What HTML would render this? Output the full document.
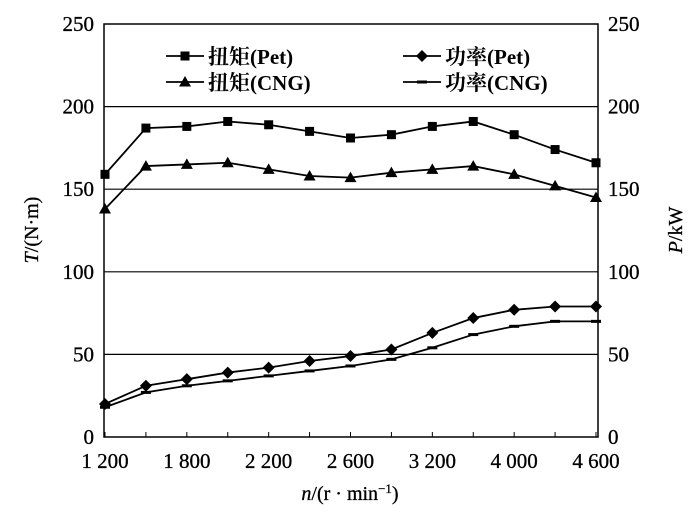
<!DOCTYPE html>
<html><head><meta charset="utf-8"><style>
body{margin:0;background:#fff}
svg text{font-family:"Liberation Serif","Noto Serif CJK SC",serif;fill:#000}
</style></head><body>
<svg id="c" width="700" height="514"></svg>
<script>
const categories=["1 200","1 500","1 800","2 000","2 200","2 400","2 600","2 800","3 200","3 600","4 000","4 400","4 600"];
const tickLabels=["1 200","","1 800","","2 200","","2 600","","3 200","","4 000","","4 600"];
const torquePet=[159,187,188,191,189,185,181,183,188,191,183,174,166];
const torqueCng=[138,164,165,166,162,158,157,160,162,164,159,152,145];
const powerPet=[20,31,35,39,42,46,49,53,63,72,77,79,79];
const powerCng=[18,27,31,34,37,40,43,47,54,62,67,70,70];
const yTicks=[0,50,100,150,200,250];
const L=104,R=598,T=24,B=437;
const x=i=>105+i*(596-105)/(categories.length-1);
const y=v=>B-v*(B-T)/250;
const s=document.getElementById('c');const NS='http://www.w3.org/2000/svg';
function el(t,a,txt){const e=document.createElementNS(NS,t);for(const k in a)e.setAttribute(k,a[k]);if(txt!==undefined)e.textContent=txt;s.appendChild(e);return e;}
yTicks.forEach(v=>{
 if(v>0&&v<250){const g=el('line',{x1:L,x2:R,y1:y(v),y2:y(v),stroke:'#000','stroke-width':1.2});}
 const a=el('text',{x:L-10,y:y(v)+7,'text-anchor':'end','font-size':21,stroke:'#000','stroke-width':0.3},v);
 const b=el('text',{x:R+10,y:y(v)+7,'text-anchor':'start','font-size':21,stroke:'#000','stroke-width':0.3},v);
});
const f=el('rect',{x:L,y:T,width:R-L,height:B-T,fill:'none',stroke:'#000','stroke-width':1.5});

tickLabels.forEach((t,i)=>{el('line',{x1:x(i),x2:x(i),y1:B,y2:B-5,stroke:'#000'});if(t){const e=el('text',{x:x(i),y:B+31,'text-anchor':'middle','font-size':21,stroke:'#000','stroke-width':0.3},t);}});
function marker(type,cx,cy){
 if(type==='sq')return el('rect',{x:cx-4.5,y:cy-4.5,width:9,height:9,fill:'#000'});
 if(type==='tri')return el('polygon',{points:`${cx},${cy-6} ${cx+6},${cy+4.5} ${cx-6},${cy+4.5}`,fill:'#000'});
 if(type==='dia')return el('polygon',{points:`${cx},${cy-6} ${cx+6},${cy} ${cx},${cy+6} ${cx-6},${cy}`,fill:'#000'});
 return el('rect',{x:cx-5,y:cy-1.5,width:10,height:3,fill:'#000'});
}
function series(d,type,name){
 const p=el('polyline',{points:d.map((v,i)=>x(i)+','+y(v)).join(' '),fill:'none',stroke:'#000','stroke-width':1.8});
 
 d.forEach((v,i)=>{const m=marker(type,x(i),y(v));});
}
series(torquePet,'sq','torque-pet');series(torqueCng,'tri','torque-cng');
series(powerPet,'dia','power-pet');series(powerCng,'dash','power-cng');
const leg=[[166,56,'sq','扭矩(Pet)'],[166,82,'tri','扭矩(CNG)'],[403,56,'dia','功率(Pet)'],[403,82,'dash','功率(CNG)']];
leg.forEach(([lx,ly,t,lab])=>{el('line',{x1:lx,x2:lx+38,y1:ly,y2:ly,stroke:'#000','stroke-width':1.8});marker(t,lx+19,ly);
 const e=el('text',{x:lx+42,y:ly+8,'font-size':21,'font-weight':'bold'},lab);});
const xt=el('text',{x:350,y:500,'text-anchor':'middle','font-size':20,stroke:'#000','stroke-width':0.3});xt.innerHTML='<tspan font-style="italic">n</tspan>/(r · min<tspan baseline-shift="super" font-size="13">−1</tspan>)';

const yl=el('text',{x:0,y:0,'text-anchor':'middle','font-size':20,stroke:'#000','stroke-width':0.3,transform:'translate(38,230) rotate(-90)'});yl.innerHTML='<tspan font-style="italic">T</tspan>/(N·m)';

const yr=el('text',{x:0,y:0,'text-anchor':'middle','font-size':20,stroke:'#000','stroke-width':0.3,transform:'translate(682,230) rotate(-90)'});yr.innerHTML='<tspan font-style="italic">P</tspan>/kW';

</script>
</body></html>
